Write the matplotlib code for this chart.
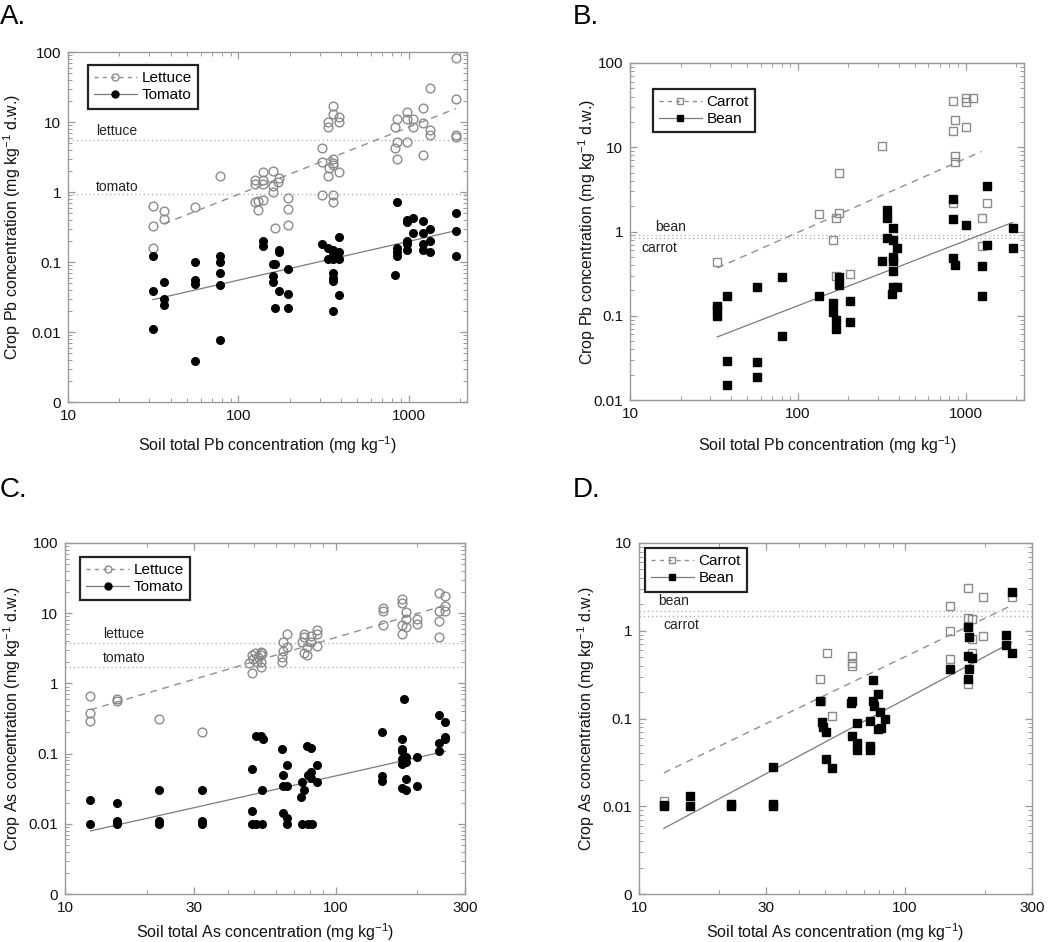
import matplotlib
matplotlib.use("Agg")
import matplotlib.pyplot as plt
from matplotlib.lines import Line2D
from matplotlib.ticker import LogLocator, FixedLocator, FixedFormatter, NullFormatter

plt.rcParams['font.family'] = ['Liberation Sans', 'DejaVu Sans']
plt.rcParams['mathtext.fontset'] = 'custom'
plt.rcParams['mathtext.rm'] = 'Liberation Sans'
plt.rcParams['mathtext.default'] = 'regular'

# ---------------- Panel A: Pb, lettuce / tomato ----------------
a_lettuce_x = [31.7, 31.7, 31.7, 36.4, 36.4, 56, 78,
               125, 125, 139, 139, 139, 125, 130, 139, 130,
               159, 159, 159, 170, 174, 165,
               197, 197, 197,
               310, 310, 310, 335, 335, 335, 340,
               359, 359, 359, 359, 359, 359, 361,
               388, 388, 388,
               830, 830, 849, 849, 849,
               982, 982, 982, 1067, 1067,
               1221, 1221, 1221,
               1336, 1336, 1336,
               1888, 1888, 1888, 1888]
a_lettuce_y = [0.63, 0.33, 0.16, 0.53, 0.41, 0.62, 1.71,
               1.5, 1.3, 1.9, 1.5, 1.3, 0.72, 0.75, 0.77, 0.56,
               2.0, 1.2, 1.0, 1.4, 1.6, 0.31,
               0.82, 0.57, 0.34,
               4.3, 2.7, 0.9, 9.9, 8.5, 1.7, 2.2,
               17, 13, 3.0, 2.6, 2.4, 0.9, 0.72,
               11.8, 10, 1.9,
               8.5, 4.3, 11, 5.2, 3.0,
               14, 11, 5.2, 11, 8.6,
               16, 9.7, 3.4,
               31, 7.6, 6.6,
               83, 21, 6.5, 6.1]
a_tomato_x = [31.5, 31.5, 31.5, 36.4, 36.4, 36.4,
              56, 56, 56, 56,
              78, 78, 78, 78, 78,
              139, 139,
              159, 165, 159, 159, 165, 174, 174, 174,
              197, 197, 197,
              310, 335, 335, 359, 359, 359, 359, 359, 359, 359, 388, 388, 388, 388,
              830, 849, 849, 849, 849,
              982, 982, 982, 982, 982, 1067, 1067,
              1221, 1221, 1221, 1221, 1336, 1336, 1336,
              1888, 1888, 1888]
a_tomato_y = [0.12, 0.039, 0.011, 0.051, 0.030, 0.024,
              0.1, 0.056, 0.049, 0.0039,
              0.12, 0.10, 0.07, 0.047, 0.0077,
              0.2, 0.17,
              0.095, 0.095, 0.063, 0.051, 0.022, 0.14, 0.15, 0.039,
              0.08, 0.035, 0.022,
              0.18, 0.16, 0.11, 0.15, 0.13, 0.11, 0.07, 0.06, 0.053, 0.02, 0.23, 0.14, 0.11, 0.034,
              0.065, 0.73, 0.16, 0.14, 0.12,
              0.4, 0.37, 0.2, 0.18, 0.15, 0.43, 0.26,
              0.39, 0.26, 0.18, 0.15, 0.3, 0.2, 0.14,
              0.5, 0.28, 0.12]
a_fit_lettuce_x = [36.4, 1888]
a_fit_lettuce_y = [0.35, 15.5]
a_fit_tomato_x = [31.5, 1888]
a_fit_tomato_y = [0.029, 0.28]
a_ref_levels = [5.6, 0.93]
a_ref_labels = ['lettuce', 'tomato']

# ---------------- Panel B: Pb, carrot / bean ----------------
b_carrot_x = [33.1, 134, 170, 177, 177, 163, 170, 205, 316,
              837, 864, 837, 864, 864, 837,
              1000, 1000, 1000, 1100, 1245, 1245, 1347]
b_carrot_y = [0.44, 1.63, 1.45, 1.65, 5.0, 0.79, 0.30, 0.31, 10.3,
              35, 21, 15.8, 7.8, 6.6, 2.15,
              34, 38, 17.3, 38.5, 1.45, 0.67, 2.15]
b_bean_x = [33, 33, 33, 37.7, 37.7, 37.7, 56.9, 56.9, 56.9, 80.9, 80.9,
            134, 163, 163, 170, 170, 177, 177, 205, 205,
            316, 338, 338, 338, 362, 371, 371, 371, 371, 371, 371, 392, 392,
            837, 837, 837, 864, 1000, 1245, 1245, 1347, 1347, 1906, 1906]
b_bean_y = [0.13, 0.12, 0.10, 0.17, 0.029, 0.015, 0.22, 0.028, 0.019, 0.29, 0.058,
            0.17, 0.14, 0.11, 0.09, 0.07, 0.29, 0.23, 0.15, 0.085,
            0.45, 1.8, 1.45, 0.83, 0.18, 1.1, 0.8, 0.5, 0.45, 0.34, 0.22, 0.64, 0.22,
            2.4, 1.4, 0.48, 0.4, 1.2, 0.39, 0.17, 3.5, 0.7, 1.1, 0.64]
b_fit_carrot_x = [33.1, 1245]
b_fit_carrot_y = [0.37, 8.9]
b_fit_bean_x = [33.1, 1906]
b_fit_bean_y = [0.056, 1.28]
b_ref_levels = [0.92, 0.84]
b_ref_labels = ['bean', 'carrot']

# ---------------- Panel C: As, lettuce / tomato ----------------
c_lettuce_x = [12.4, 12.4, 12.4, 15.6, 15.6, 22.3, 32.1,
               47.7, 49.0, 49.0, 49.5, 50.2, 51, 51.7, 53.1, 53.1, 53.1, 53.5, 53.1,
               63.4, 63.4, 63.8, 63.8, 66.2, 66.2,
               75.3, 76.4, 76.4, 76.4, 78, 78, 80.7, 80.7, 85, 85, 85,
               149, 149, 149,
               175, 175, 175, 175, 181, 181, 181,
               199, 199,
               240, 240, 240, 240,
               254, 254, 254]
c_lettuce_y = [0.67, 0.38, 0.29, 0.6, 0.57, 0.31, 0.2,
               1.97, 2.5, 1.4, 2.2, 2.7, 2.0, 2.4, 2.8, 2.0, 1.7, 2.7, 2.5,
               2.4, 2.0, 3.9, 2.9, 5.0, 3.3,
               3.9, 5.1, 4.6, 2.7, 2.5, 3.3, 3.9, 4.7, 5.8, 5.0, 3.4,
               12, 10.8, 6.9,
               16, 14, 6.8, 5.0, 10.4, 8.4, 6.4,
               8.4, 7.1,
               19.6, 10.8, 7.8, 4.6,
               17.4, 12.6, 10.8]
c_tomato_x = [12.4, 12.4, 15.6, 15.6, 15.6, 22.3, 22.3, 22.3, 32.1, 32.1, 32.1,
              49.1, 49.1, 49.1, 50.9, 50.9, 53.1, 53.5, 53.5, 53.8,
              63.4, 63.8, 63.8, 63.8, 66.2, 66.2, 65.9, 66.2,
              74.5, 75, 75.3, 76.4, 78, 78.8, 80.7, 80.7, 80.7, 78.8, 81.5, 85, 85,
              148, 148, 148,
              175, 175, 175, 175, 175, 175, 179, 181, 181, 181, 181,
              199, 199,
              240, 240, 240,
              254, 254, 254]
c_tomato_y = [0.022, 0.01, 0.02, 0.0108, 0.01, 0.03, 0.0108, 0.01, 0.03, 0.0108, 0.01,
              0.06, 0.015, 0.01, 0.18, 0.01, 0.18, 0.03, 0.01, 0.16,
              0.118, 0.05, 0.034, 0.0143, 0.069, 0.035, 0.012, 0.01,
              0.024, 0.01, 0.039, 0.03, 0.13, 0.05, 0.12, 0.055, 0.045, 0.01, 0.01, 0.069, 0.039,
              0.2, 0.048, 0.041,
              0.16, 0.118, 0.108, 0.084, 0.07, 0.032, 0.6, 0.09, 0.076, 0.044, 0.03,
              0.09, 0.035,
              0.35, 0.14, 0.108,
              0.28, 0.17, 0.16]
c_fit_lettuce_x = [12.4, 254]
c_fit_lettuce_y = [0.42, 13]
c_fit_tomato_x = [12.4, 254]
c_fit_tomato_y = [0.0079, 0.108]
c_ref_levels = [3.8, 1.73]
c_ref_labels = ['lettuce', 'tomato']

# ---------------- Panel D: As, carrot / bean ----------------
d_carrot_x = [12.4, 48.1, 48.5, 50.8, 53.2,
              63.2, 63.2, 63.2,
              148, 148, 148,
              172, 172, 172, 172, 179, 179, 179,
              197, 197, 252]
d_carrot_y = [0.0116, 0.28, 0.16, 0.556, 0.106,
              0.51, 0.40, 0.43,
              1.9, 1.0, 0.48,
              3.1, 1.4, 1.1, 0.25, 1.35, 0.8, 0.56,
              2.4, 0.87, 2.4]
d_bean_x = [12.4, 12.4, 15.5, 15.5, 22.2, 22.2, 31.8, 31.8, 31.8,
            48.1, 48.8, 49.0, 50.5, 50.5, 53.2,
            62.8, 63.2, 63.2, 66.1, 66.1, 66.1,
            74.1, 74.1, 74.1, 76, 76, 76.5, 78.9, 78.9, 80.5, 81.3, 84.4,
            148, 173, 174, 172, 172, 174, 179,
            239, 239, 252, 252]
d_bean_y = [0.0103, 0.01, 0.013, 0.01, 0.0105, 0.01, 0.028, 0.0105, 0.01,
            0.158, 0.091, 0.08, 0.07, 0.0346, 0.027,
            0.15, 0.16, 0.063, 0.09, 0.052, 0.044,
            0.093, 0.048, 0.044, 0.276, 0.16, 0.14, 0.19, 0.075, 0.118, 0.078, 0.098,
            0.37, 1.1, 0.85, 0.52, 0.28, 0.37, 0.49,
            0.9, 0.68, 2.8, 0.56]
d_fit_carrot_x = [12.4, 252]
d_fit_carrot_y = [0.024, 1.95]
d_fit_bean_x = [12.4, 252]
d_fit_bean_y = [0.0056, 0.74]
d_ref_levels = [1.7, 1.48]
d_ref_labels = ['bean', 'carrot']

# ---------------- drawing ----------------
W, H = 1050, 942
fig = plt.figure(figsize=(W / 100, H / 100), dpi=100)

GREY_MK = '#8a8a8a'
GREY_LN = '#8f8f8f'
FRAME = '#9a9a9a'
REF = '#b4b4b4'


def px_axes(left, top, right, bottom):
    return fig.add_axes([left / W, (H - bottom) / H, (right - left) / W, (bottom - top) / H])


def style(ax, box, xlim, ylim, xmajor, xlabels, ymajor, ylabels, xlab, ylab, xlab_y, ylab_x):
    left, top, right, bottom = box
    ax.set_xscale('log')
    ax.set_yscale('log')
    ax.set_xlim(*xlim)
    ax.set_ylim(*ylim)
    ax.xaxis.set_major_locator(FixedLocator(xmajor))
    ax.xaxis.set_major_formatter(FixedFormatter(xlabels))
    ax.xaxis.set_minor_locator(LogLocator(base=10, subs=range(2, 10)))
    ax.xaxis.set_minor_formatter(NullFormatter())
    ax.yaxis.set_major_locator(FixedLocator(ymajor))
    ax.yaxis.set_major_formatter(FixedFormatter(ylabels))
    ax.yaxis.set_minor_locator(LogLocator(base=10, subs=range(2, 10)))
    ax.yaxis.set_minor_formatter(NullFormatter())
    ax.tick_params(which='both', direction='in', top=True, right=True, color=FRAME,
                   labelsize=11, labelcolor='#111111')
    ax.tick_params(which='major', length=5, width=0.9, pad=5)
    ax.tick_params(which='minor', length=3, width=0.7)
    for s in ax.spines.values():
        s.set_color(FRAME)
        s.set_linewidth(1.0)
    ax.set_xlabel(xlab, fontsize=11.5, color='#111111', va='center')
    ax.xaxis.set_label_coords(0.5, -(xlab_y - bottom) / (bottom - top))
    ax.set_ylabel(ylab, fontsize=11.5, color='#111111', va='center')
    ax.yaxis.set_label_coords(-(left - ylab_x) / (right - left), 0.5)


def draw(ax, ox, oy, fox, foy, fx, fy, ffx, ffy, marker, refs, ref_labels, ref_pos):
    for lvl, lab, (tx, ty) in zip(refs, ref_labels, ref_pos):
        ax.axhline(lvl, color=REF, lw=1.0, ls=(0, (1, 2)), zorder=1)
        ax.text(tx, ty, lab, fontsize=10, color='#222222', transform=ax.transAxes,
                ha='left', va='center')
    ax.plot(fox, foy, ls=(0, (5, 4)), color=GREY_LN, lw=1.0, zorder=2)
    ax.plot(ffx, ffy, ls='-', color='#7a7a7a', lw=0.9, zorder=2)
    if marker == 'o':
        ms_open, ms_fill = 6.3, 5.5
    else:
        ms_open, ms_fill = 5.4, 5.4
    ax.plot(ox, oy, ls='none', marker=marker, ms=ms_open, mfc='none', mec=GREY_MK, mew=1.0,
            zorder=3)
    ax.plot(fx, fy, ls='none', marker=marker, ms=ms_fill, mfc='black', mec='black', zorder=4)
    h1 = Line2D([], [], ls=(0, (3, 3)), color=GREY_LN, lw=1.0, marker=marker, ms=5,
                mfc='none', mec=GREY_MK)
    h2 = Line2D([], [], ls='-', color='#7a7a7a', lw=0.9, marker=marker, ms=5,
                mfc='black', mec='black')
    return h1, h2


def legend(ax, handles, names, bbox):
    leg = ax.legend(handles, names, loc='upper left', bbox_to_anchor=bbox, fontsize=11,
                    frameon=True, fancybox=False, edgecolor='#222222', framealpha=1,
                    handlelength=2.8, handletextpad=0.3, borderpad=0.4, labelspacing=0.2,
                    borderaxespad=0)
    leg.get_frame().set_linewidth(1.6)


pb_xlab = 'Soil total Pb concentration (mg kg$^{-1}$)'
as_xlab = 'Soil total As concentration (mg kg$^{-1}$)'
pb_ylab = 'Crop Pb concentration (mg kg$^{-1}$ d.w.)'
as_ylab = 'Crop As concentration (mg kg$^{-1}$ d.w.)'

# Panel A
boxA = (68, 52, 467, 402)
axA = px_axes(*boxA)
style(axA, boxA, (10, 2200), (0.001, 100), [10, 100, 1000], ['10', '100', '1000'],
      [0.001, 0.01, 0.1, 1, 10, 100], ['0', '0.01', '0.1', '1', '10', '100'], pb_xlab, pb_ylab,
      445, 12)
h = draw(axA, a_lettuce_x, a_lettuce_y, a_fit_lettuce_x, a_fit_lettuce_y,
         a_tomato_x, a_tomato_y, a_fit_tomato_x, a_fit_tomato_y, 'o',
         a_ref_levels, a_ref_labels, [(0.07, 0.775), (0.07, 0.615)])
legend(axA, h, ['Lettuce', 'Tomato'], (0.05, 0.962))

# Panel B
boxB = (630, 63, 1024, 400)
axB = px_axes(*boxB)
style(axB, boxB, (10, 2230), (0.01, 100), [10, 100, 1000], ['10', '100', '1000'],
      [0.01, 0.1, 1, 10, 100], ['0.01', '0.1', '1', '10', '100'], pb_xlab, pb_ylab,
      445, 587)
h = draw(axB, b_carrot_x, b_carrot_y, b_fit_carrot_x, b_fit_carrot_y,
         b_bean_x, b_bean_y, b_fit_bean_x, b_fit_bean_y, 's',
         b_ref_levels, b_ref_labels, [(0.065, 0.512), (0.028, 0.45)])
legend(axB, h, ['Carrot', 'Bean'], (0.058, 0.923))

# Panel C
boxC = (65, 543, 465, 894)
axC = px_axes(*boxC)
style(axC, boxC, (10, 300), (0.001, 100), [10, 30, 100, 300], ['10', '30', '100', '300'],
      [0.001, 0.01, 0.1, 1, 10, 100], ['0', '0.01', '0.1', '1', '10', '100'], as_xlab, as_ylab,
      932, 12)
h = draw(axC, c_lettuce_x, c_lettuce_y, c_fit_lettuce_x, c_fit_lettuce_y,
         c_tomato_x, c_tomato_y, c_fit_tomato_x, c_fit_tomato_y, 'o',
         c_ref_levels, c_ref_labels, [(0.095, 0.74), (0.095, 0.672)])
legend(axC, h, ['Lettuce', 'Tomato'], (0.038, 0.96))

# Panel D
boxD = (639, 543, 1032, 894)
axD = px_axes(*boxD)
style(axD, boxD, (10, 300), (0.001, 10), [10, 30, 100, 300], ['10', '30', '100', '300'],
      [0.001, 0.01, 0.1, 1, 10], ['0', '0.01', '0.1', '1', '10'], as_xlab, as_ylab,
      932, 586)
h = draw(axD, d_carrot_x, d_carrot_y, d_fit_carrot_x, d_fit_carrot_y,
         d_bean_x, d_bean_y, d_fit_bean_x, d_fit_bean_y, 's',
         d_ref_levels, d_ref_labels, [(0.048, 0.835), (0.061, 0.766)])
legend(axD, h, ['Carrot', 'Bean'], (0.015, 0.985))

# panel letters
for txt, x, y in [('A.', 0, 17), ('B.', 573, 17), ('C.', 0, 490), ('D.', 573, 490)]:
    fig.text(x / W, 1 - y / H, txt, fontsize=20, ha='left', va='center', color='black')

fig.savefig('out.png', dpi=100)
